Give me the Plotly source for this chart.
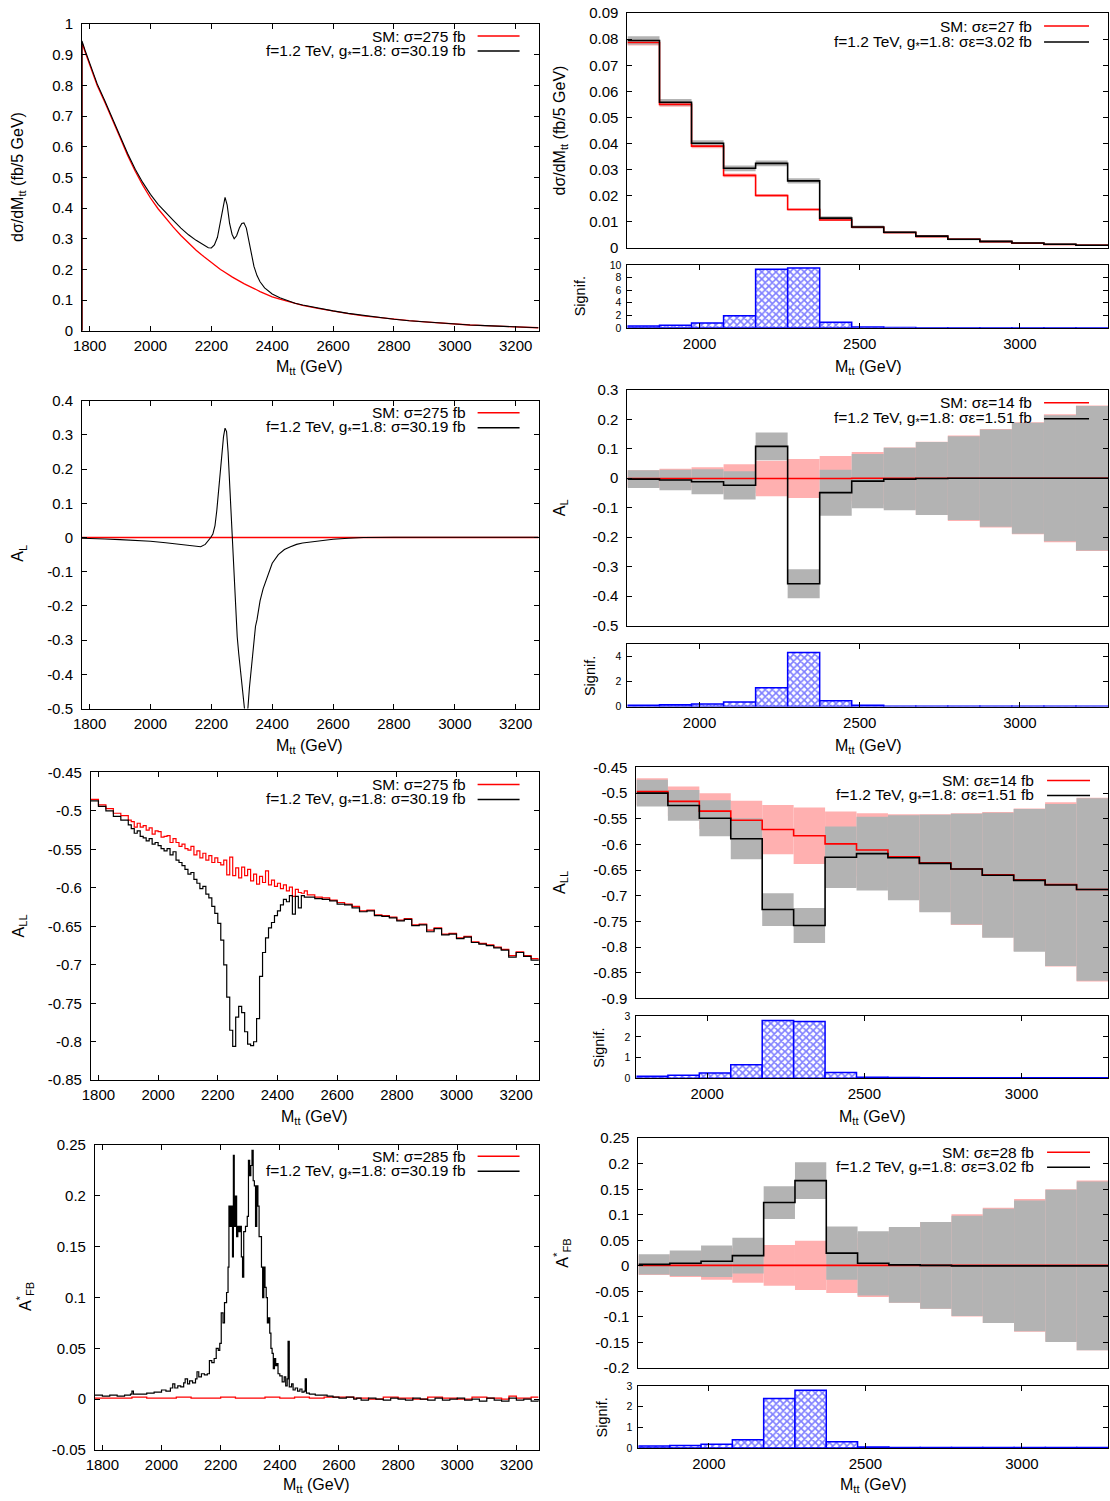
import plotly.graph_objects as go

# The photographed page keeps the browser's 8 px body margin and is scaled to the
# window; positions below are given in window pixels and mapped into the figure.
W, H = 1110, 1501
PAGE_MARGIN = 8
SX = 1110 / 1118
SY = 1501 / 1517
FONT = "Liberation Sans, Arial, Helvetica, sans-serif"
RED = "#ff0000"
BLACK = "#000000"
PINK = "#ffb0b0"
GREY = "#b3b3b3"
BLUE = "#0000ff"

# ---------------- DATA ----------------
# Left column (5 GeV binned distributions), x in GeV
L1_x = [1775, 1775, 1785, 1800, 1825, 1850, 1875, 1900, 1925, 1950, 1975, 2000, 2025, 2050, 2075, 2100,
        2125, 2150, 2175, 2190, 2200, 2210, 2220, 2230, 2238, 2245, 2252, 2260, 2268, 2275, 2283, 2292,
        2300, 2307, 2315, 2322, 2330, 2340, 2350, 2360, 2375, 2390, 2400, 2425, 2450, 2475, 2500, 2550,
        2600, 2650, 2700, 2750, 2800, 2850, 2900, 2950, 3000, 3050, 3100, 3150, 3200, 3250, 3275]
L1_sm = [0, 0.94, 0.91, 0.87, 0.80, 0.745, 0.69, 0.63, 0.572, 0.52, 0.474, 0.433, 0.398, 0.367, 0.338, 0.311,
         0.286, 0.263, 0.242, 0.23, 0.222, 0.214, 0.207, 0.2, 0.195, 0.19, 0.186, 0.181, 0.176, 0.172, 0.167, 0.162,
         0.158, 0.154, 0.15, 0.147, 0.143, 0.138, 0.133, 0.128, 0.121, 0.115, 0.111, 0.103, 0.096, 0.089, 0.083, 0.073,
         0.064, 0.056, 0.049, 0.043, 0.038, 0.033, 0.029, 0.025, 0.022, 0.019, 0.017, 0.015, 0.013, 0.011, 0.010]
L1_bsm = [0, 0.945, 0.915, 0.875, 0.805, 0.75, 0.695, 0.635, 0.578, 0.527, 0.483, 0.445, 0.412, 0.385, 0.36, 0.335,
          0.313, 0.295, 0.28, 0.271, 0.27, 0.28, 0.305, 0.355, 0.405, 0.435, 0.41, 0.35, 0.315, 0.30, 0.31, 0.335,
          0.35, 0.352, 0.335, 0.30, 0.255, 0.21, 0.18, 0.16, 0.14, 0.127, 0.12, 0.108, 0.098, 0.09, 0.084, 0.074,
          0.065, 0.057, 0.050, 0.044, 0.038, 0.033, 0.029, 0.025, 0.022, 0.019, 0.017, 0.015, 0.013, 0.011, 0.010]

L2_x = [1775, 1800, 1850, 1900, 1950, 2000, 2050, 2100, 2125, 2150, 2165, 2180, 2190, 2198, 2205, 2212,
        2218, 2225, 2230, 2235, 2240, 2245, 2250, 2255, 2260, 2265, 2270, 2275, 2280, 2285, 2290, 2295,
        2300, 2305, 2310, 2315, 2320, 2325, 2330, 2335, 2340, 2345, 2350, 2360, 2370, 2380, 2390, 2400,
        2420, 2440, 2460, 2480, 2500, 2550, 2600, 2650, 2700, 2800, 2900, 3000, 3100, 3200, 3275]
L2_bsm = [-0.002, -0.002, -0.004, -0.006, -0.008, -0.011, -0.015, -0.02, -0.024, -0.027, -0.027, -0.02, -0.01, 0.0, 0.01, 0.035,
          0.08, 0.15, 0.195, 0.24, 0.295, 0.32, 0.31, 0.25, 0.16, 0.05, -0.05, -0.14, -0.22, -0.29, -0.34, -0.38,
          -0.43, -0.48, -0.51, -0.51, -0.50, -0.44, -0.39, -0.34, -0.30, -0.26, -0.24, -0.185, -0.15, -0.123, -0.095, -0.075,
          -0.05, -0.035, -0.027, -0.02, -0.016, -0.01, -0.005, -0.002, 0.0, 0.001, 0.001, 0.001, 0.001, 0.001, 0.001]
L2_smx = [1775, 3275]
L2_sm = [0.0, 0.0]

L3_x = [1775, 1800, 1825, 1850, 1875,
        1900, 1910, 1920, 1930, 1940, 1950, 1960, 1970, 1980, 1990,
        2000, 2010, 2020, 2030, 2040, 2050, 2060, 2070, 2080, 2090,
        2100, 2110, 2120, 2130, 2140, 2150, 2160, 2170, 2180, 2190,
        2200, 2210, 2220, 2230, 2240, 2250, 2260, 2270, 2280, 2290,
        2300, 2310, 2320, 2330, 2340, 2350, 2360, 2370, 2380, 2390,
        2400, 2410, 2420, 2430, 2440, 2450, 2460, 2470, 2480, 2490, 2500,
        2525, 2550, 2575, 2600, 2625, 2650, 2675, 2700, 2725, 2750, 2775, 2800, 2825, 2850, 2875,
        2900, 2925, 2950, 2975, 3000, 3025, 3050, 3075, 3100, 3125, 3150, 3175, 3200, 3225, 3250, 3275]
L3_sm = [-0.485, -0.492, -0.497, -0.503, -0.506,
         -0.512, -0.514, -0.521, -0.516, -0.521, -0.519, -0.525, -0.522, -0.530, -0.526,
         -0.527, -0.534, -0.533, -0.532, -0.541, -0.536, -0.541, -0.546, -0.543, -0.549,
         -0.551, -0.546, -0.557, -0.552, -0.561, -0.555, -0.564, -0.558, -0.567, -0.561,
         -0.567, -0.570, -0.564, -0.583, -0.560, -0.584, -0.574, -0.587, -0.573, -0.584,
         -0.576, -0.591, -0.582, -0.595, -0.585, -0.593, -0.578, -0.596, -0.590, -0.598,
         -0.594, -0.601, -0.596, -0.604, -0.599, -0.611, -0.602, -0.606, -0.607, -0.604, -0.609,
         -0.612, -0.613, -0.616, -0.619, -0.621, -0.624, -0.630, -0.629, -0.635, -0.636, -0.638, -0.642, -0.640, -0.648, -0.647,
         -0.655, -0.652, -0.660, -0.659, -0.665, -0.663, -0.670, -0.672, -0.674, -0.677, -0.680, -0.688, -0.683, -0.688, -0.692, -0.694]
L3_bsm = [-0.487, -0.494, -0.500, -0.507, -0.512,
          -0.518, -0.523, -0.529, -0.526, -0.533, -0.535, -0.539, -0.536, -0.543, -0.541,
          -0.545, -0.549, -0.552, -0.549, -0.557, -0.553, -0.564, -0.567, -0.571, -0.576,
          -0.582, -0.580, -0.589, -0.594, -0.601, -0.598, -0.608, -0.613, -0.624, -0.633,
          -0.646, -0.668, -0.700, -0.742, -0.785, -0.806, -0.768, -0.754, -0.762, -0.787,
          -0.803, -0.805, -0.800, -0.770, -0.715, -0.684, -0.665, -0.652, -0.645, -0.636,
          -0.630, -0.622, -0.615, -0.618, -0.610, -0.634, -0.611, -0.626, -0.610, -0.612, -0.612,
          -0.614, -0.615, -0.617, -0.621, -0.622, -0.626, -0.631, -0.630, -0.636, -0.637, -0.639, -0.643, -0.641, -0.649, -0.648,
          -0.657, -0.653, -0.661, -0.660, -0.666, -0.664, -0.671, -0.673, -0.675, -0.678, -0.681, -0.690, -0.684, -0.689, -0.694, -0.695]

L4_x = [1775, 1800, 1825, 1850, 1875, 1895, 1900, 1905, 1925, 1950,
        1975, 2000, 2015, 2030, 2038, 2045, 2055, 2065, 2075, 2080,
        2088, 2095, 2105, 2115, 2120, 2126, 2135, 2145, 2155, 2162,
        2170, 2178, 2185, 2192, 2197, 2202, 2208, 2213, 2220, 2225,
        2228, 2232, 2236, 2240, 2243, 2246, 2250, 2254, 2258, 2262,
        2266, 2270, 2274, 2278, 2284, 2290, 2294, 2298, 2302, 2306,
        2310, 2314, 2318, 2322, 2326, 2330, 2334, 2338, 2342, 2346,
        2350, 2354, 2358, 2362, 2366, 2370, 2374, 2378, 2382, 2386,
        2390, 2394, 2400, 2408, 2415, 2420, 2425, 2428, 2432, 2440,
        2445, 2452, 2460, 2468, 2475, 2482, 2486, 2490, 2500, 2520,
        2540, 2560, 2580, 2600, 2625, 2650, 2660, 2675, 2700, 2725,
        2750, 2775, 2800, 2825, 2850, 2875, 2900, 2925, 2950, 2975,
        3000, 3025, 3050, 3075, 3100, 3125, 3150, 3175, 3200, 3225,
        3250, 3275]
L4_bsm = [0.004, 0.003, 0.004, 0.003, 0.004, 0.005, 0.008, 0.005, 0.005, 0.006,
          0.007, 0.009, 0.008, 0.011, 0.015, 0.011, 0.013, 0.012, 0.016, 0.020,
          0.015, 0.018, 0.016, 0.020, 0.027, 0.022, 0.025, 0.024, 0.025, 0.038,
          0.036, 0.040, 0.050, 0.048, 0.055, 0.085, 0.075, 0.095, 0.105, 0.13,
          0.19, 0.17, 0.19, 0.14, 0.24, 0.17, 0.20, 0.16, 0.17, 0.165,
          0.17, 0.14, 0.12, 0.165, 0.17, 0.18, 0.235, 0.22, 0.23, 0.245,
          0.215, 0.21, 0.17, 0.21, 0.19, 0.16, 0.16, 0.13, 0.10, 0.13,
          0.11, 0.10, 0.075, 0.08, 0.065, 0.05, 0.045, 0.03, 0.04, 0.033,
          0.035, 0.025, 0.023, 0.017, 0.022, 0.013, 0.02, 0.057, 0.012, 0.015,
          0.009, 0.011, 0.008, 0.01, 0.007, 0.008, 0.02, 0.006, 0.005, 0.004,
          0.004, 0.003, 0.002, 0.001, 0.002, 0.0, 0.001, -0.001, 0.001, 0.0,
          -0.001, 0.001, 0.0, -0.001, 0.001, 0.0, -0.001, 0.001, -0.001, 0.0,
          0.001, -0.001, 0.0, -0.002, 0.001, -0.001, -0.002, 0.001, -0.001, 0.0,
          -0.002, 0.0]
L4_smx = [1775, 1850, 1900, 1950, 2000, 2050, 2100, 2150, 2200, 2250,
          2300, 2350, 2400, 2450, 2500, 2550, 2600, 2650, 2700, 2750,
          2800, 2850, 2900, 2950, 3000, 3050, 3100, 3150, 3175, 3200,
          3250, 3275]
L4_sm = [0.001, 0.001, 0.002, 0.001, 0.001, 0.002, 0.001, 0.001, 0.002, 0.001,
         0.001, 0.002, 0.001, 0.002, 0.001, 0.002, 0.002, 0.001, 0.0, 0.002,
         0.001, 0.0, 0.002, 0.001, 0.0, 0.002, 0.001, 0.0, 0.003, 0.001,
         0.002, 0.002]

# Right column (100 GeV bins)
BIN_EDGES = [1775, 1875, 1975, 2075, 2175, 2275, 2375, 2475, 2575, 2675, 2775, 2875, 2975, 3075, 3175, 3275]

R1_sm = [0.0787, 0.0550, 0.0390, 0.0278, 0.0201, 0.0147, 0.0107, 0.0079, 0.0059, 0.0044, 0.0033, 0.0024, 0.0018, 0.0013, 0.0010]
R1_sm_err = [0.0011, 0.0009, 0.0008, 0.0007, 0.0006, 0.0005, 0.0004, 0.0004, 0.0003, 0.0003, 0.0003, 0.0002, 0.0002, 0.0002, 0.0002]
R1_bsm = [0.0795, 0.0558, 0.0401, 0.0305, 0.0324, 0.0257, 0.0114, 0.0080, 0.0060, 0.0045, 0.0033, 0.0025, 0.0019, 0.0014, 0.0010]
R1_bsm_err = [0.0016, 0.0013, 0.0012, 0.0011, 0.0011, 0.0010, 0.0007, 0.0006, 0.0005, 0.0004, 0.0004, 0.0003, 0.0003, 0.0003, 0.0002]
R1_sig = [0.3, 0.4, 0.75, 1.9, 9.3, 9.5, 0.9, 0.15, 0.05, 0.03, 0.03, 0.03, 0.03, 0.03, 0.03]

R2_sm = [-0.001, -0.001, -0.001, -0.001, -0.001, -0.001, -0.001, 0.0, 0.0, 0.0, 0.0, 0.0, 0.0, 0.0, 0.0]
R2_sm_err = [0.028, 0.033, 0.038, 0.048, 0.060, 0.066, 0.076, 0.089, 0.104, 0.124, 0.145, 0.167, 0.190, 0.217, 0.247]
R2_bsm = [-0.003, -0.006, -0.012, -0.024, 0.108, -0.358, -0.049, -0.010, -0.003, -0.001, 0.0, 0.0, 0.0, 0.0, 0.0]
R2_bsm_err = [0.030, 0.035, 0.042, 0.048, 0.047, 0.049, 0.078, 0.092, 0.106, 0.124, 0.142, 0.165, 0.188, 0.214, 0.245]
R2_sig = [0.1, 0.15, 0.2, 0.35, 1.5, 4.3, 0.45, 0.1, 0.03, 0.02, 0.02, 0.02, 0.02, 0.02, 0.02]

R3_sm = [-0.497, -0.516, -0.535, -0.553, -0.571, -0.583, -0.599, -0.611, -0.624, -0.636, -0.648, -0.659, -0.669, -0.678, -0.688]
R3_sm_err = [0.026, 0.029, 0.035, 0.038, 0.048, 0.055, 0.063, 0.072, 0.083, 0.095, 0.109, 0.122, 0.139, 0.160, 0.179]
R3_bsm = [-0.500, -0.524, -0.549, -0.589, -0.727, -0.758, -0.625, -0.618, -0.626, -0.637, -0.648, -0.660, -0.670, -0.679, -0.688]
R3_bsm_err = [0.026, 0.030, 0.035, 0.040, 0.032, 0.034, 0.060, 0.072, 0.083, 0.095, 0.108, 0.122, 0.139, 0.158, 0.178]
R3_sig = [0.1, 0.15, 0.25, 0.65, 2.8, 2.75, 0.28, 0.05, 0.03, 0.02, 0.02, 0.02, 0.02, 0.02, 0.02]

R4_sm = [0.001, 0.001, 0.001, 0.001, 0.001, 0.001, 0.001, 0.001, 0.001, 0.001, 0.001, 0.001, 0.001, 0.001, 0.001]
R4_sm_err = [0.019, 0.023, 0.028, 0.034, 0.040, 0.048, 0.054, 0.062, 0.073, 0.085, 0.100, 0.113, 0.130, 0.149, 0.166]
R4_bsm = [0.003, 0.005, 0.009, 0.020, 0.124, 0.167, 0.025, 0.005, 0.002, 0.001, 0.0, 0.0, 0.0, 0.0, 0.0]
R4_bsm_err = [0.020, 0.025, 0.031, 0.035, 0.032, 0.036, 0.052, 0.063, 0.074, 0.085, 0.098, 0.112, 0.128, 0.149, 0.165]
R4_sig = [0.1, 0.12, 0.18, 0.4, 2.4, 2.8, 0.3, 0.05, 0.02, 0.02, 0.02, 0.02, 0.02, 0.02, 0.02]

# Tick values
XT_LEFT = [1800, 2000, 2200, 2400, 2600, 2800, 3000, 3200]
XT_RIGHT = [2000, 2500, 3000]
YT_L1 = [0, 0.1, 0.2, 0.3, 0.4, 0.5, 0.6, 0.7, 0.8, 0.9, 1]
YT_L2 = [-0.5, -0.4, -0.3, -0.2, -0.1, 0, 0.1, 0.2, 0.3, 0.4]
YT_L3 = [-0.85, -0.8, -0.75, -0.7, -0.65, -0.6, -0.55, -0.5, -0.45]
YT_L4 = [-0.05, 0, 0.05, 0.1, 0.15, 0.2, 0.25]
YT_R1 = [0, 0.01, 0.02, 0.03, 0.04, 0.05, 0.06, 0.07, 0.08, 0.09]
YT_R2 = [-0.5, -0.4, -0.3, -0.2, -0.1, 0, 0.1, 0.2, 0.3]
YT_R3 = [-0.9, -0.85, -0.8, -0.75, -0.7, -0.65, -0.6, -0.55, -0.5, -0.45]
YT_R4 = [-0.2, -0.15, -0.1, -0.05, 0, 0.05, 0.1, 0.15, 0.2, 0.25]
YT_S1 = [0, 2, 4, 6, 8, 10]
YT_S2 = [0, 2, 4]
YT_S3 = [0, 1, 2, 3]

TICK_FS = 15
SIG_FS = 10.5
TITLE_FS = 16
LEG_FS = 15.5


def PX(x):
    return min(1.0, max(0.0, (x / SX - PAGE_MARGIN) / W))


def PY(y):
    return min(1.0, max(0.0, 1 - (y / SY - PAGE_MARGIN) / H))


# ---------------- FIGURE ----------------
fig = go.Figure()


def names(i):
    return ("x" if i == 1 else f"x{i}", "y" if i == 1 else f"y{i}")


def add_line(i, xs, ys, color, width, shape="linear"):
    xa, ya = names(i)
    fig.add_trace(go.Scatter(x=xs, y=ys, mode="lines",
                             line=dict(color=color, width=width, shape=shape),
                             xaxis=xa, yaxis=ya, showlegend=False, hoverinfo="skip"))


centers = [(a + b) / 2 for a, b in zip(BIN_EDGES[:-1], BIN_EDGES[1:])]
widths = [b - a for a, b in zip(BIN_EDGES[:-1], BIN_EDGES[1:])]


def add_band(i, vals, errs, color):
    xa, ya = names(i)
    fig.add_trace(go.Bar(x=centers, y=[2 * e for e in errs], base=[v - e for v, e in zip(vals, errs)],
                         width=widths, marker=dict(color=color, line=dict(width=0)), opacity=1,
                         xaxis=xa, yaxis=ya, showlegend=False, hoverinfo="skip"))


def add_steps(i, vals, color, width):
    add_line(i, BIN_EDGES, list(vals) + [vals[-1]], color, width, "hv")


def add_sig(i, sig):
    xa, ya = names(i)
    fig.add_trace(go.Bar(x=centers, y=sig, width=widths,
                         marker=dict(color="white", line=dict(color=BLUE, width=1.5),
                                     pattern=dict(shape="x", fgcolor=BLUE, bgcolor="white",
                                                  size=5, solidity=0.55)),
                         opacity=1, xaxis=xa, yaxis=ya, showlegend=False, hoverinfo="skip"))


# Left column
add_line(1, L1_x, L1_sm, RED, 1.3)
add_line(1, L1_x, L1_bsm, BLACK, 1.1)
add_line(2, L2_smx, L2_sm, RED, 1.6)
add_line(2, L2_x, L2_bsm, BLACK, 1.1)
add_line(3, L3_x, L3_sm, RED, 1.2, "hv")
add_line(3, L3_x, L3_bsm, BLACK, 1.2, "hv")
add_line(4, L4_smx, L4_sm, RED, 1.3, "hv")
add_line(4, L4_x, L4_bsm, BLACK, 1.2, "hv")

# Right column
for (im, isg, sm, sme, bsm, bsme, sig) in [
    (5, 6, R1_sm, R1_sm_err, R1_bsm, R1_bsm_err, R1_sig),
    (7, 8, R2_sm, R2_sm_err, R2_bsm, R2_bsm_err, R2_sig),
    (9, 10, R3_sm, R3_sm_err, R3_bsm, R3_bsm_err, R3_sig),
    (11, 12, R4_sm, R4_sm_err, R4_bsm, R4_bsm_err, R4_sig),
]:
    add_band(im, sm, sme, PINK)
    add_band(im, bsm, bsme, GREY)
    add_steps(im, sm, RED, 1.6)
    add_steps(im, bsm, BLACK, 1.6)
    add_sig(isg, sig)

# ---------------- LAYOUT ----------------
# panel frames in window pixels: ((left, right), (top, bottom))
DOM = {
    1: ((81, 538), (23, 330)),
    2: ((81, 538), (400, 708)),
    3: ((90, 538), (772, 1080)),
    4: ((94, 538), (1145, 1450)),
    5: ((627, 1108), (12, 247)),
    6: ((627, 1108), (264, 327)),
    7: ((627, 1108), (389, 625)),
    8: ((627, 1108), (643, 706)),
    9: ((636, 1108), (767, 998)),
    10: ((636, 1108), (1016, 1078)),
    11: ((638, 1108), (1138, 1368)),
    12: ((638, 1108), (1386, 1448)),
}

YSPEC = {
    1: ([0, 1], YT_L1, TICK_FS), 2: ([-0.5, 0.4], YT_L2, TICK_FS), 3: ([-0.85, -0.45], YT_L3, TICK_FS),
    4: ([-0.05, 0.25], YT_L4, TICK_FS),
    5: ([0, 0.09], YT_R1, TICK_FS), 6: ([0, 10], YT_S1, SIG_FS),
    7: ([-0.5, 0.3], YT_R2, TICK_FS), 8: ([0, 5], YT_S2, SIG_FS),
    9: ([-0.9, -0.45], YT_R3, TICK_FS), 10: ([0, 3], YT_S3, SIG_FS),
    11: ([-0.2, 0.25], YT_R4, TICK_FS), 12: ([0, 3], YT_S3, SIG_FS),
}


def fmt(v):
    s = f"{round(v, 4):g}"
    return "0" if s == "-0" else s


def base_axis(dom, rng, tickvals, labels=True, ticks=True, size=TICK_FS, standoff=5):
    return dict(domain=dom, range=rng, autorange=False, showline=True, linecolor="black", linewidth=1,
                mirror="allticks" if ticks else True, ticks="inside" if ticks else "",
                ticklen=5, tickwidth=1, tickcolor="black",
                tickvals=tickvals, ticktext=[fmt(v) for v in tickvals], showticklabels=labels,
                tickfont=dict(family=FONT, size=size, color="black"), ticklabelstandoff=standoff,
                showgrid=False, zeroline=False, fixedrange=True)


layout = dict(width=W, height=H, autosize=False, margin=dict(l=0, r=0, t=0, b=0, pad=0),
              paper_bgcolor="white", plot_bgcolor="white", barmode="overlay", showlegend=False,
              font=dict(family=FONT, size=14, color="black"))

for i, ((x0, x1), (y0, y1)) in DOM.items():
    xa, ya = names(i)
    xdom = [PX(x0), PX(x1)]
    ydom = [PY(y1), PY(y0)]
    if i <= 4:
        xax = base_axis(xdom, [1775, 3275], XT_LEFT, True, True, TICK_FS, 1)
    elif i % 2 == 1:
        xax = base_axis(xdom, [1775, 3275], XT_RIGHT, False, False, TICK_FS, 1)
    else:
        xax = base_axis(xdom, [1775, 3275], XT_RIGHT, True, True, TICK_FS, 2)
    rng, tv, sz = YSPEC[i]
    yax = base_axis(ydom, rng, tv, True, True, sz, 5 if sz == TICK_FS else 3)
    xax["anchor"] = ya
    yax["anchor"] = xa
    layout["xaxis" if i == 1 else f"xaxis{i}"] = xax
    layout["yaxis" if i == 1 else f"yaxis{i}"] = yax

fig.update_layout(**layout)

ann = []
shapes = []


def text(xp, yp, s, size=14, angle=0, xanchor="center"):
    ann.append(dict(x=PX(xp), y=PY(yp), xref="paper", yref="paper", text=s, showarrow=False,
                    textangle=angle, xanchor=xanchor, yanchor="middle",
                    font=dict(family=FONT, size=size, color="black")))


MTT = "M<sub>tt</sub> (GeV)"
GS = "g<sub>*</sub>"
# x titles
for xp, yp in [(309, 367), (309, 746), (314, 1117), (316, 1486), (868, 367), (868, 746), (872, 1117), (873, 1486)]:
    text(xp, yp, MTT, TITLE_FS)
# y titles
text(18, 176, "dσ/dM<sub>tt</sub> (fb/5 GeV)", TITLE_FS, -90)
text(18, 553, "A<sub>L</sub>", TITLE_FS, -90)
text(18, 926, "A<sub>LL</sub>", TITLE_FS, -90)
text(24, 1297, "A<sup>*</sup><sub>FB</sub>", TITLE_FS, -90)
text(560, 130, "dσ/dM<sub>tt</sub> (fb/5 GeV)", TITLE_FS, -90)
text(560, 507, "A<sub>L</sub>", TITLE_FS, -90)
text(560, 882, "A<sub>LL</sub>", TITLE_FS, -90)
text(562, 1253, "A<sup>*</sup><sub>FB</sub>", TITLE_FS, -90)
for xp, yp in [(579, 296), (589, 675), (599, 1047), (601, 1417)]:
    text(xp, yp, "Signif.", 14.5, -90)

# legends
LEG = [
    (467, 477, 519, 35, 50, "SM: σ=275 fb", f"f=1.2 TeV, {GS}=1.8: σ=30.19 fb"),
    (467, 477, 519, 412, 427, "SM: σ=275 fb", f"f=1.2 TeV, {GS}=1.8: σ=30.19 fb"),
    (467, 477, 519, 784, 799, "SM: σ=275 fb", f"f=1.2 TeV, {GS}=1.8: σ=30.19 fb"),
    (467, 477, 519, 1156, 1171, "SM: σ=285 fb", f"f=1.2 TeV, {GS}=1.8: σ=30.19 fb"),
    (1034, 1044, 1089, 25, 41, "SM: σε=27 fb", f"f=1.2 TeV, {GS}=1.8: σε=3.02 fb"),
    (1034, 1044, 1089, 402, 418, "SM: σε=14 fb", f"f=1.2 TeV, {GS}=1.8: σε=1.51 fb"),
    (1036, 1047, 1090, 780, 795, "SM: σε=14 fb", f"f=1.2 TeV, {GS}=1.8: σε=1.51 fb"),
    (1036, 1047, 1090, 1152, 1167, "SM: σε=28 fb", f"f=1.2 TeV, {GS}=1.8: σε=3.02 fb"),
]
for tx, s0, s1, ya1, ya2, t1, t2 in LEG:
    text(tx, ya1, t1, LEG_FS, 0, "right")
    text(tx, ya2, t2, LEG_FS, 0, "right")
    shapes.append(dict(type="line", xref="paper", yref="paper", x0=PX(s0), x1=PX(s1),
                       y0=PY(ya1), y1=PY(ya1), line=dict(color=RED, width=1.5)))
    shapes.append(dict(type="line", xref="paper", yref="paper", x0=PX(s0), x1=PX(s1),
                       y0=PY(ya2), y1=PY(ya2), line=dict(color=BLACK, width=1.5)))

fig.update_layout(annotations=ann, shapes=shapes)
fig.write_html("out.html")
